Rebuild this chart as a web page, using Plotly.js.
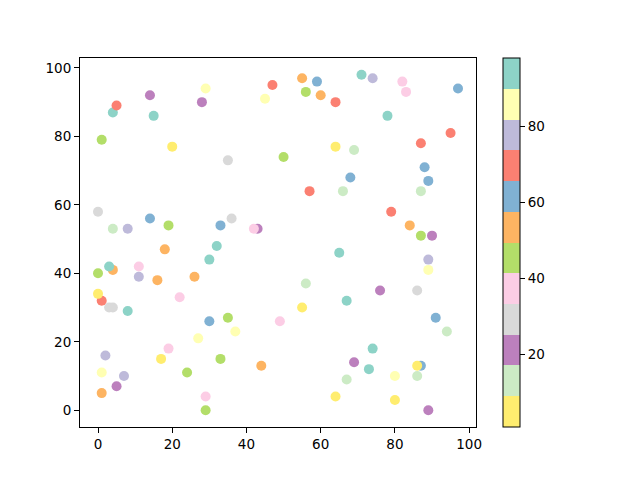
<!DOCTYPE html>
<html>
<head>
<meta charset="utf-8">
<script src="https://cdn.plot.ly/plotly-3.0.1.min.js"></script>
<style>html,body{margin:0;padding:0;background:#fff;}#chart{width:640px;height:480px;}</style>
</head>
<body>
<div id="chart"></div>
<script>
// Point positions (listed in drawing order)
const xValues = [14,4,5,15,1,20,0,4,8,14,19,18,29,28,47,45,35,36,33,43,42,32,55,59,71,74,56,60,64,64,69,50,68,57,66,65,82,83,97,78,95,87,88,89,87,79,84,87,90,4,3,0,11,11,16,1,0,3,4,8,22,19,17,2,1,7,5,1,24,30,26,30,35,37,27,49,33,44,29,29,56,55,67,74,69,73,67,64,89,89,76,86,91,94,87,86,80,86,80,89];
const yValues = [92,87,89,86,79,77,58,53,53,56,54,47,94,90,95,91,73,56,54,53,53,48,97,96,98,97,93,92,90,77,76,74,68,64,64,46,96,93,94,86,81,78,71,67,64,58,54,51,51,41,42,40,42,39,38,32,34,30,30,29,33,18,15,16,11,10,7,5,11,44,39,26,27,23,21,26,15,13,4,0,37,30,32,18,14,12,9,4,44,41,35,35,27,23,13,13,10,10,3,0];
// Colour values (mapped through the colormap)
const cValues = [21,94,69,94,45,5,29,13,77,61,45,53,85,21,69,85,29,29,61,21,37,94,53,61,94,77,45,53,69,5,13,45,61,69,13,94,37,37,61,94,69,69,61,61,13,69,53,45,21,53,94,45,37,77,53,69,5,29,29,94,37,37,5,77,85,77,21,53,45,94,53,61,45,85,85,37,45,53,37,45,13,5,94,94,21,94,13,5,77,85,21,29,61,13,61,5,85,13,5,21];
// Set3_r colormap colours (low to high)
const cmapColors = ['#ffed6f','#ccebc5','#bc80bd','#d9d9d9','#fccde5','#b3de69','#fdb462','#80b1d3','#fb8072','#bebada','#ffffb3','#8dd3c7'];
const cMin = 1, cMax = 98;
const cbTicks = [20,40,60,80];

// Build stepped colorscale
const colorscale = [];
const n = cmapColors.length;
cmapColors.forEach((c, i) => {
  colorscale.push([i / n, c]);
  colorscale.push([(i + 1) / n, c]);
});

const trace = {
  type: 'scatter',
  mode: 'markers',
  x: xValues,
  y: yValues,
  marker: {
    size: 10,
    color: cValues,
    colorscale: colorscale,
    cmin: cMin,
    cmax: cMax,
    line: {width: 0},
    opacity: 1,
    colorbar: {
      thickness: 17,
      thicknessmode: 'pixels',
      len: 369,
      lenmode: 'pixels',
      x: (503 - 80) / 396,
      xanchor: 'left',
      xpad: 0,
      y: 0.5,
      yanchor: 'middle',
      ypad: 0,
      outlinewidth: 1,
      outlinecolor: '#000',
      tickvals: cbTicks,
      ticks: 'outside',
      ticklen: 5,
      tickwidth: 1,
      tickcolor: '#000',
      tickfont: {family: 'DejaVu Sans', size: 13.5, color: '#000'}
    }
  },
  hoverinfo: 'none'
};

const axisCommon = {
  showgrid: false,
  zeroline: false,
  showline: true,
  linecolor: '#000',
  linewidth: 1,
  mirror: true,
  ticks: 'outside',
  ticklen: 5,
  tickwidth: 1,
  tickcolor: '#000',
  tickfont: {family: 'DejaVu Sans', size: 13.5, color: '#000'}
};

const layout = {
  width: 640,
  height: 480,
  margin: {l: 80, r: 164, t: 58, b: 53, pad: 0},
  paper_bgcolor: '#fff',
  plot_bgcolor: '#fff',
  showlegend: false,
  xaxis: Object.assign({}, axisCommon, {range: [-4.85, 101.85], tickvals: [0,20,40,60,80,100]}),
  yaxis: Object.assign({}, axisCommon, {range: [-4.9, 102.9], tickvals: [0,20,40,60,80,100]})
};

Plotly.newPlot('chart', [trace], layout, {staticPlot: true});
</script>
</body>
</html>
